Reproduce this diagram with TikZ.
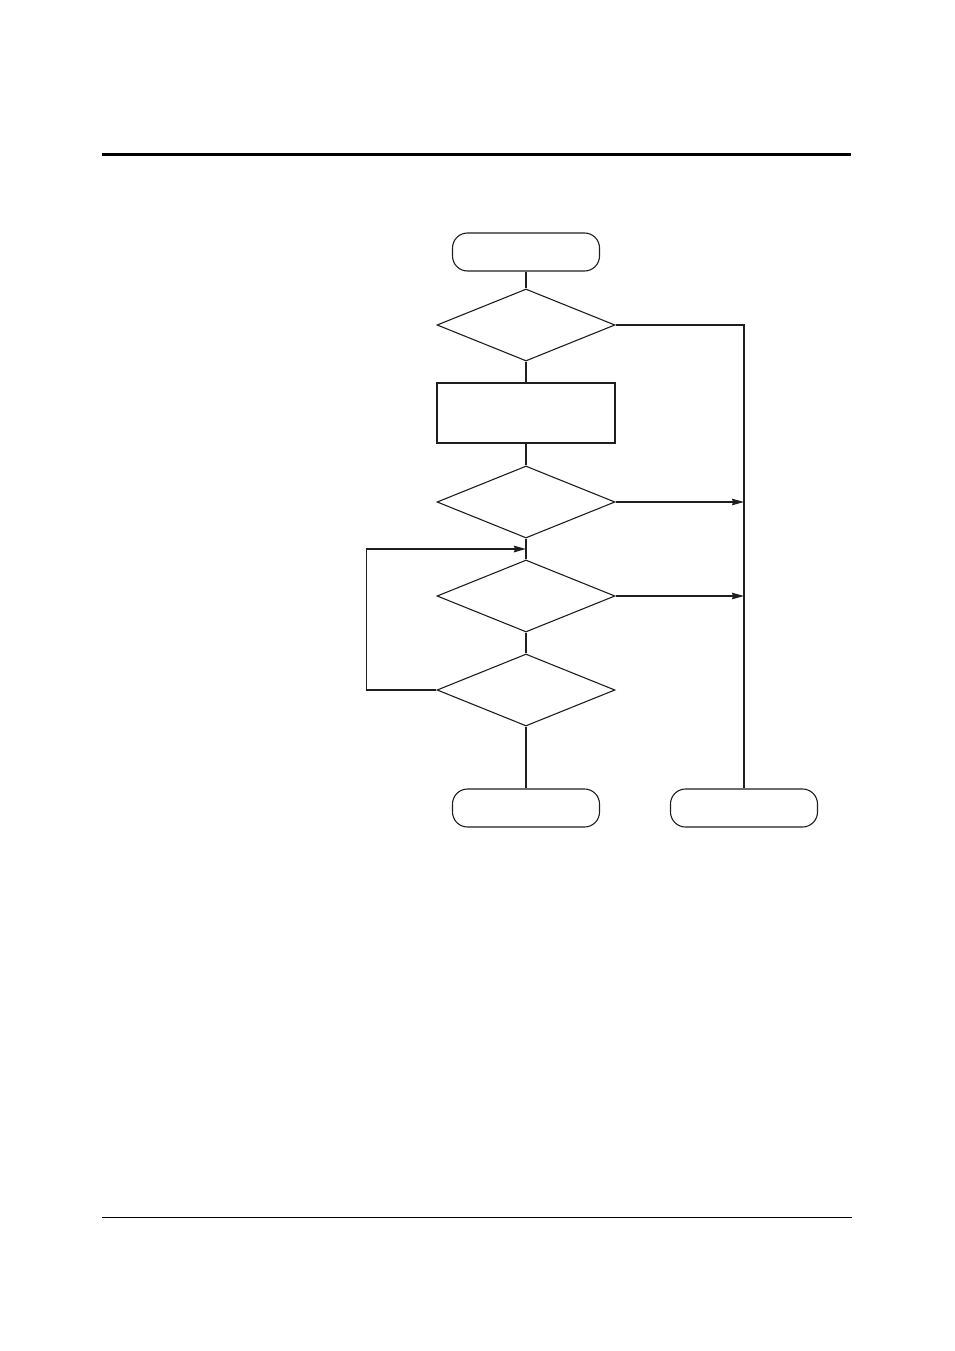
\documentclass[tikz,border=0pt]{standalone}
\usetikzlibrary{shapes.geometric, arrows.meta}

\begin{document}
\begin{tikzpicture}[x=1pt, y=-1pt, line width=1.1pt,
    terminal/.style={draw, rounded corners=15pt, minimum width=147pt, minimum height=38pt, inner sep=0pt},
    decision/.style={draw, diamond, minimum width=178pt, minimum height=72pt, inner sep=0pt},
    process/.style={draw, rectangle, minimum width=178pt, minimum height=60pt, inner sep=0pt},
    flow/.style={-{Stealth[length=12pt, width=6.5pt, inset=1pt]}},
    rail/.style={line width=1.8pt}]
    % Page frame
    \useasboundingbox (0,0) rectangle (954,1351);
    \definecolor{ink}{RGB}{30,30,30}

    % Header and footer rules
    \draw[line width=3pt] (102,155) -- (851,155);
    \draw[line width=1pt] (102,1217) -- (852,1217);

    % Main column
    \node[terminal, draw=ink] (start) at (526,252) {};
    \node[decision, draw=ink] (checkA) at (526,325) {};
    \node[process, draw=ink] (task) at (526,413) {};
    \node[decision, draw=ink] (checkB) at (526,502) {};
    \node[decision, draw=ink] (checkC) at (526,596) {};
    \node[decision, draw=ink] (checkD) at (526,690) {};
    \node[terminal, draw=ink] (endOk) at (526,808) {};
    \node[terminal, draw=ink] (endFail) at (744,808) {};

    % Helper points
    \coordinate (railTop) at (744,325);
    \coordinate (loopIn) at (526,549);

    % Straight connectors
    \draw[ink] (start.south) -- (checkA.north);
    \draw[ink] (checkA.south) -- (task.north);
    \draw[ink] (task.south) -- (checkB.north);
    \draw[ink] (checkB.south) -- (checkC.north);
    \draw[ink] (checkC.south) -- (checkD.north);
    \draw[ink] (checkD.south) -- (endOk.north);

    % Right-hand rail
    \draw[ink, rail] (checkA.east) -- (railTop) -- (endFail.north);
    \draw[ink, flow] (checkB.east) -- (checkB.east -| railTop);
    \draw[ink, flow] (checkC.east) -- (checkC.east -| railTop);

    % Loop back
    \draw[ink, rail, flow] (checkD.west) -- ++(-70,0) |- (loopIn);
\end{tikzpicture}
\end{document}
